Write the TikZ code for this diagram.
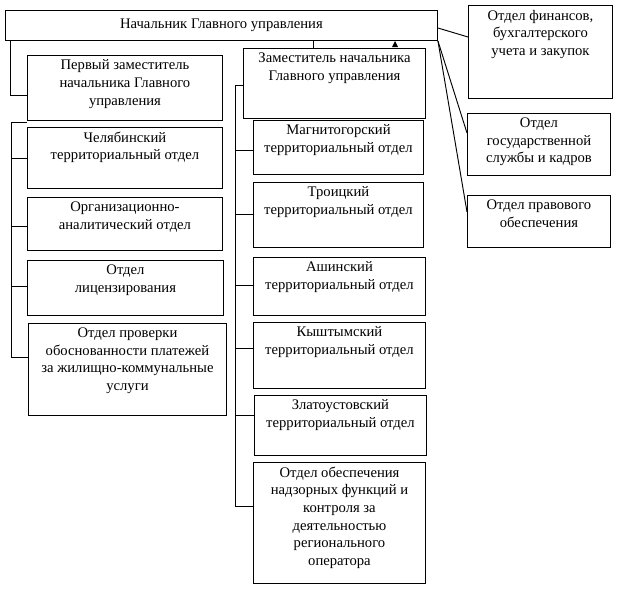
\documentclass[tikz,border=0pt]{standalone}
\usepackage{fontspec}
\setmainfont{Liberation Serif}
\newcommand{\dept}[6]{%
  \node (#1) [box, minimum width=#4*0.3mm, minimum height=#5*0.3mm] at (#2,#3) {};
  \node [txt] at (#1.north) {#6};
}
\begin{document}
\begin{tikzpicture}[
		x=0.3mm, y=-0.3mm,
		box/.style={draw, line width=0.8pt, anchor=north west, inner sep=0pt},
		txt/.style={anchor=north, align=center, font=\fontsize{12.5}{15}\selectfont, inner sep=4pt},
		link/.style={draw, line width=0.8pt}
	]
  \useasboundingbox (0,0) rectangle (617,594);
  % top
  \node (head) [box, minimum width=432*0.3mm, minimum height=30*0.3mm] at (5,10) {};
  \node [txt, anchor=center] at (head.center) {Начальник Главного управления};
  \dept{fin}{468}{5}{144}{93}{Отдел финансов,\\бухгалтерского\\учета и закупок}
  \dept{kadr}{467}{113}{143}{62}{Отдел\\государственной\\службы и кадров}
  \dept{prav}{467}{195}{143}{52}{Отдел правового\\обеспечения}
  % left column
  \dept{dep1}{27}{55}{195}{65}{Первый заместитель\\начальника Главного\\управления}
  \dept{chel}{27}{127}{195}{61}{Челябинский\\территориальный отдел}
  \dept{org}{27}{197}{195}{53}{Организационно-\\аналитический отдел}
  \dept{lic}{27}{260}{196}{55}{Отдел\\лицензирования}
  \dept{prov}{28}{323}{198}{92}{Отдел проверки\\обоснованности платежей\\за жилищно-коммунальные\\услуги}
  % middle column
  \dept{dep2}{243}{48}{182}{70}{Заместитель начальника\\Главного управления}
  \dept{magn}{253}{120}{170}{54}{Магнитогорский\\территориальный отдел}
  \dept{troi}{253}{182}{170}{65}{Троицкий\\территориальный отдел}
  \dept{ash}{253}{257}{172}{58}{Ашинский\\территориальный отдел}
  \dept{kysh}{253}{322}{172}{66}{Кыштымский\\территориальный отдел}
  \dept{zlat}{254}{395}{172}{60}{Златоустовский\\территориальный отдел}
  \dept{nadz}{253}{462}{172}{121}{Отдел обеспечения\\надзорных функций и\\контроля за\\деятельностью\\регионального\\оператора}
  % connectors
  \coordinate (l1) at (10,40);
  \coordinate (l2) at (11,122);
  \coordinate (m0) at (313,40);
  \coordinate (m1) at (235,85);
  \path [link] (l1) |- (dep1.west |- 0,95);
  \path [link] (l2) -- (dep1.south west |- l2) (l2) |- (prov.west |- 0,357);
  \foreach \n/\y in {chel/158, org/226, lic/286} \path [link] (11,\y) -- (\n.west |- 0,\y);
  \path [link] (m0) -- (m0 |- dep2.north);
  \path [link] (dep2.west |- m1) -- (m1) |- (nadz.west |- 0,506);
  \foreach \n/\y in {magn/150, troi/214, ash/285, kysh/348, zlat/415} \path [link] (235,\y) -- (\n.west |- 0,\y);
  \path [link] (head.east |- 0,28) -- (fin.west |- 0,37);
  \path [link] (head.south east) -- (kadr.north west |- 0,133);
  \path [link] (head.south east) -- (prav.north west |- 0,212);
  \fill (392,47) -- (398,47) -- (395,41) -- cycle;
\end{tikzpicture}
\end{document}
